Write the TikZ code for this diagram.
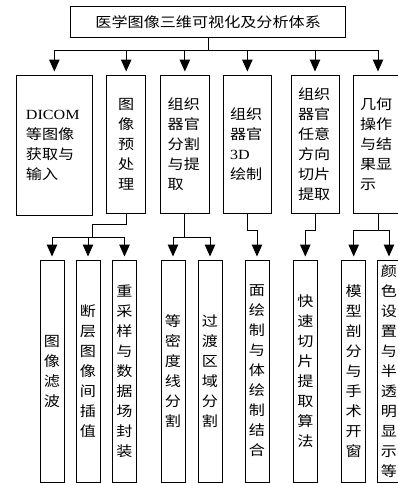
\documentclass[tikz,border=0pt]{standalone}
\usepackage{fontspec}
\setmainfont{Liberation Serif}[FakeStretch=1.15]
\newfontfamily\cjk{Noto Sans CJK SC}[FakeStretch=1.15]
\usetikzlibrary{arrows.meta}
\begin{document}
\begin{tikzpicture}[x=1pt,y=-1pt,
  box/.style={draw=black,line width=1pt,inner sep=0pt,font=\fontsize{14}{20}\selectfont\cjk},
  midbox/.style={box,minimum height=138pt,align=left},
  lowbox/.style={box,minimum width=24pt,minimum height=222pt,align=center},
  arr/.style={line width=1pt,-{Triangle[width=10.5pt,length=12pt]},shorten >=3pt},
  wire/.style={line width=1pt}]
\useasboundingbox (0,0) rectangle (398,483);
% top
\node[box,minimum width=275pt,minimum height=31.7pt] (top) at (208.2,21.85) {医学图像三维可视化及分析体系};
% second level
\node[midbox,minimum width=76.7pt,minimum height=140pt,text width=56.7pt] (m1) at (54.35,145) {{\rmfamily DICOM}\\等图像\\获取与\\输入};
\node[midbox,minimum width=39pt,align=center] (m2) at (126.2,144) {图\\像\\预\\处\\理};
\node[midbox,minimum width=48.3pt,text width=34.3pt] (m3) at (184.85,144) {组织\\器官\\分割\\与提\\取};
\node[midbox,minimum width=48.7pt,text width=34.7pt] (m4) at (247.35,144) {组织\\器官\\{\rmfamily 3D}\\绘制};
\node[midbox,minimum width=48pt,text width=34pt] (m5) at (315,144) {组织\\器官\\任意\\方向\\切片\\提取};
\node[midbox,minimum width=50pt,text width=36pt] (m6) at (378,144) {几何\\操作\\与结\\果显\\示};
% third level
\node[lowbox] (l1) at (52,371) {图\\像\\滤\\波};
\node[lowbox] (l2) at (88,371) {断\\层\\图\\像\\间\\插\\值};
\node[lowbox] (l3) at (124.5,371) {重\\采\\样\\与\\数\\据\\场\\封\\装};
\node[lowbox] (l4) at (173,371) {等\\密\\度\\线\\分\\割};
\node[lowbox] (l5) at (210,371) {过\\渡\\区\\域\\分\\割};
\node[lowbox] (l6) at (257,371) {面\\绘\\制\\与\\体\\绘\\制\\结\\合};
\node[lowbox] (l7) at (305.3,371) {快\\速\\切\\片\\提\\取\\算\\法};
\node[lowbox] (l8) at (353.7,371) {模\\型\\剖\\分\\与\\手\\术\\开\\窗};
\node[lowbox] (l9) at (389,371) {颜\\色\\设\\置\\与\\半\\透\\明\\显\\示\\等};
% connectors top -> second level
\coordinate (tb) at (208.2,50);
\draw[wire] (top.south) -- (tb);
\foreach \m in {m1,m2,m3,m4,m5,m6} \draw[arr] (tb) -| (\m.north);
% m2 -> l1,l2,l3
\coordinate (j2) at (92.7,237);
\draw[wire] (m2.south) -- ++(0,11) -| (j2);
\foreach \l in {l1,l2,l3} \draw[arr] (j2) -| (\l.north);
% m3 -> l4,l5
\coordinate (j3) at (184.85,237);
\draw[wire] (m3.south) -- (j3);
\foreach \l in {l4,l5} \draw[arr] (j3) -| (\l.north);
% m4 -> l6, m5 -> l7
\draw[arr] (m4.south) -- ++(0,17) -| (l6.north);
\draw[arr] (m5.south) -- ++(0,17) -| (l7.north);
% m6 -> l8,l9
\coordinate (j6) at (378,230);
\draw[wire] (m6.south) -- (j6);
\foreach \l in {l8,l9} \draw[arr] (j6) -| (\l.north);
\end{tikzpicture}
\end{document}
